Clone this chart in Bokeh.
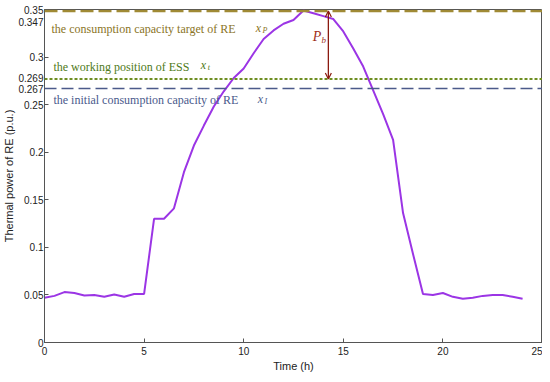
from bokeh.plotting import figure
from bokeh.models import (Span, Label, Arrow, OpenHead, FixedTicker, Range1d)
from bokeh.embed import file_html
from bokeh.resources import INLINE

# ---- data ----
time_h = [0, 0.5, 1, 1.5, 2, 2.5, 3, 3.5, 4, 4.5, 5, 5.5, 6, 6.5, 7, 7.5, 8, 8.5,
          9, 9.5, 10, 10.5, 11, 11.5, 12, 12.5, 13, 13.5, 14, 14.5, 15, 15.5, 16,
          16.5, 17, 17.5, 18, 18.5, 19, 19.5, 20, 20.5, 21, 21.5, 22, 22.5, 23, 23.5, 24]
thermal_power = [0.047, 0.049, 0.053, 0.052, 0.0495, 0.050, 0.048, 0.0505, 0.048, 0.051, 0.051,
                 0.130, 0.130, 0.141, 0.179, 0.207, 0.228, 0.248,
                 0.264, 0.278, 0.288, 0.304, 0.319, 0.328, 0.335, 0.339, 0.349, 0.346, 0.343,
                 0.340, 0.327, 0.309, 0.290, 0.265, 0.240, 0.213, 0.136, 0.093, 0.051, 0.050,
                 0.052, 0.048, 0.046, 0.047, 0.049, 0.050, 0.050, 0.048, 0.046]
target_level = 0.3485      # x_p
working_level = 0.277      # x_t
initial_level = 0.267      # x_I
arrow_time = 14.25
level_labels = ["0.347", "0.269", "0.267"]
level_label_pos = [0.337, 0.2775, 0.2665]
x_ticks = [0, 5, 10, 15, 20, 25]
y_ticks = [0, 0.05, 0.1, 0.15, 0.2, 0.25, 0.3, 0.35]
y_tick_labels = ["0", "0.05", "0.1", "0.15", "0.2", "0.25", "0.3", "0.35"]

p = figure(width=542, height=374, output_backend="svg", toolbar_location=None,
           x_range=Range1d(0, 25), y_range=Range1d(0, 0.35),
           min_border_left=2, min_border_right=0, min_border_top=9, min_border_bottom=4)
p.background_fill_color = "white"
p.outline_line_color = "#555555"
p.grid.visible = False

p.xaxis.ticker = FixedTicker(ticks=x_ticks)
# labels at the regular ticks and at the level values; tick marks only at regular ticks
p.yaxis.ticker = FixedTicker(ticks=y_ticks + level_label_pos, minor_ticks=y_ticks)
overrides = {t: s for t, s in zip(y_ticks, y_tick_labels)}
overrides.update({t: s for t, s in zip(level_label_pos, level_labels)})
p.yaxis.major_label_overrides = overrides
p.xaxis.axis_label = "Time (h)"
p.yaxis.axis_label = "Thermal power of RE (p.u.)"
for ax in (p.xaxis, p.yaxis):
    ax.axis_line_color = "#555555"
    ax.major_tick_line_color = "#555555"
    ax.major_tick_in = 4
    ax.major_tick_out = 0
    ax.minor_tick_line_color = None
    ax.major_label_text_font = "Liberation Sans"
    ax.major_label_text_font_size = "10px"
    ax.major_label_text_color = "#222222"
    ax.axis_label_text_font = "Liberation Sans"
    ax.axis_label_text_font_size = "11px"
    ax.axis_label_text_font_style = "normal"
    ax.axis_label_text_color = "#222222"
p.yaxis.major_tick_line_color = None
p.yaxis.minor_tick_line_color = "#555555"
p.yaxis.minor_tick_in = 4
p.yaxis.minor_tick_out = 0
p.yaxis.major_label_standoff = 1
p.yaxis.axis_label_standoff = 0
p.xaxis.major_label_standoff = 4
p.xaxis.axis_label_standoff = 2

# level lines
p.add_layout(Span(location=target_level, dimension="width", line_color="#A08A35",
                  line_width=2.5, line_dash="13 5"))
p.add_layout(Span(location=working_level, dimension="width", line_color="#6E8E22",
                  line_width=2, line_dash="3 2"))
p.add_layout(Span(location=initial_level, dimension="width", line_color="#4B5A8A",
                  line_width=1.5, line_dash="12 5"))

# curve
p.line(time_h, thermal_power, line_color="#9B35E5", line_width=2)

# arrow P_b
p.add_layout(Arrow(start=OpenHead(size=6, line_color="#8B1A10", line_width=1.2),
                   end=OpenHead(size=6, line_color="#8B1A10", line_width=1.2),
                   x_start=arrow_time, y_start=target_level, x_end=arrow_time, y_end=working_level,
                   line_color="#8B1A10", line_width=1.3))
p.add_layout(Label(x=arrow_time - 0.35, y=0.322, text="P", text_font="Liberation Serif",
                   text_font_style="italic", text_font_size="14px", text_color="#A0301C",
                   text_align="right", text_baseline="middle"))
p.add_layout(Label(x=arrow_time - 0.35, y=0.318, text="b", text_font="Liberation Serif",
                   text_font_style="italic", text_font_size="9px", text_color="#A0301C",
                   text_align="left", text_baseline="middle"))

# annotation texts
serif = "Liberation Serif"
p.add_layout(Label(x=0.35, y=0.329, text="the consumption capacity target of RE",
                   text_font=serif, text_font_size="12px", text_color="#8A7426",
                   text_baseline="middle"))
p.add_layout(Label(x=10.6, y=0.331, text="x", text_font=serif, text_font_style="italic",
                   text_font_size="12px", text_color="#8A7426", text_baseline="middle"))
p.add_layout(Label(x=10.95, y=0.328, text="P", text_font=serif, text_font_style="italic",
                   text_font_size="8px", text_color="#8A7426", text_baseline="middle"))

p.add_layout(Label(x=0.45, y=0.290, text="the working position of ESS",
                   text_font=serif, text_font_size="12px", text_color="#4F7A20",
                   text_baseline="middle"))
p.add_layout(Label(x=7.85, y=0.292, text="x", text_font=serif, text_font_style="italic",
                   text_font_size="12px", text_color="#4F7A20", text_baseline="middle"))
p.add_layout(Label(x=8.2, y=0.289, text="t", text_font=serif, text_font_style="italic",
                   text_font_size="8px", text_color="#4F7A20", text_baseline="middle"))

p.add_layout(Label(x=0.45, y=0.255, text="the initial consumption capacity of RE",
                   text_font=serif, text_font_size="12px", text_color="#4A5A8C",
                   text_baseline="middle"))
p.add_layout(Label(x=10.7, y=0.256, text="x", text_font=serif, text_font_style="italic",
                   text_font_size="12px", text_color="#4A5A8C", text_baseline="middle"))
p.add_layout(Label(x=11.05, y=0.253, text="I", text_font=serif, text_font_style="italic",
                   text_font_size="8px", text_color="#4A5A8C", text_baseline="middle"))

open("out.html", "w").write(file_html(p, INLINE))
